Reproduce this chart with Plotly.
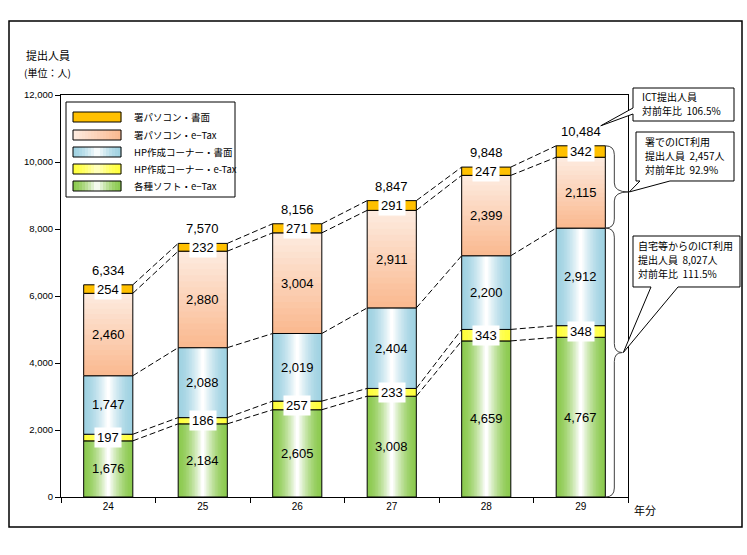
import plotly.graph_objects as go

# ---------------- data ----------------
years = ["24", "25", "26", "27", "28", "29"]
soft_etax = [1676, 2184, 2605, 3008, 4659, 4767]   # 各種ソフト・e-Tax
hp_etax = [197, 186, 257, 233, 343, 348]           # HP作成コーナー・e-Tax
hp_paper = [1747, 2088, 2019, 2404, 2200, 2912]    # HP作成コーナー・書面
pc_etax = [2460, 2880, 3004, 2911, 2399, 2115]     # 署パソコン・e-Tax
pc_paper = [254, 232, 271, 291, 247, 342]          # 署パソコン・書面
totals = [6334, 7570, 8156, 8847, 9848, 10484]
legend_names = ["署パソコン・書面", "署パソコン・e−Tax", "HP作成コーナー・書面",
                "HP作成コーナー・e-Tax", "各種ソフト・e−Tax"]
callout_ict = ["ICT提出人員", "対前年比  106.5%"]
callout_office = ["署でのICT利用", "提出人員  2,457人", "対前年比  92.9%"]
callout_home = ["自宅等からのICT利用", "提出人員  8,027人", "対前年比  111.5%"]

# ---------------- geometry (reference pixel coords) ----------------
FW, FH = 747, 555
PL, PR, PT, PB = 61, 628, 95, 497
YMAX = 12000
BW = 0.52
NCAT = len(years)


def px(x):
    return (x - PL) / (PR - PL)


def py(y):
    return (PB - y) / (PB - PT)


def xpix(v):
    return PL + (v + 0.5) * (PR - PL) / NCAT


def ypix(v):
    return PB - v * (PB - PT) / YMAX


def mix(c1, c2, t):
    return "rgb(%d,%d,%d)" % tuple(round(a * (1 - t) + b * t) for a, b in zip(c1, c2))


WHITE = (255, 255, 255)
GREEN = (140, 202, 80)
YELLOW = (255, 255, 60)
YELLOW_C = (255, 255, 200)
BLUE = (160, 210, 226)
PEACH_T = (253, 236, 225)
PEACH_B = (250, 184, 142)
ORANGE = "#FFC000"

xs = list(range(NCAT))
segments = [soft_etax, hp_etax, hp_paper, pc_etax, pc_paper]
bases = []
cum = [0] * NCAT
for s in segments:
    bases.append(cum[:])
    cum = [c + v for c, v in zip(cum, s)]

fig = go.Figure()


def nested(vals, base, edge, center, n, power=1.6):
    for k in range(n):
        t = (k / (n - 1)) ** power
        fig.add_trace(go.Bar(x=xs, y=vals, base=base, width=BW * (1 - k / n),
                             marker=dict(color=mix(edge, center, t), line=dict(width=0)),
                             showlegend=False, hoverinfo="skip"))


def outline(vals, base, fill="rgba(0,0,0,0)"):
    fig.add_trace(go.Bar(x=xs, y=vals, base=base, width=BW,
                         marker=dict(color=fill, line=dict(color="black", width=1)),
                         showlegend=False, hoverinfo="skip"))


nested(soft_etax, bases[0], GREEN, WHITE, 16)
outline(soft_etax, bases[0])
nested(hp_etax, bases[1], YELLOW, YELLOW_C, 8)
outline(hp_etax, bases[1])
nested(hp_paper, bases[2], BLUE, WHITE, 16)
outline(hp_paper, bases[2])
NP = 16
for k in range(NP):
    frac = (NP - k) / NP
    t = (k + 0.5) / NP
    fig.add_trace(go.Bar(x=xs, y=[v * frac for v in pc_etax], base=bases[3], width=BW,
                         marker=dict(color=mix(PEACH_T, PEACH_B, t), line=dict(width=0)),
                         showlegend=False, hoverinfo="skip"))
outline(pc_etax, bases[3])
outline(pc_paper, bases[4], ORANGE)

# dashed connectors between bars
tops = [[b + v for b, v in zip(bases[i], segments[i])] for i in range(len(segments))]
lx, ly = [], []
for level in tops:
    for i in range(NCAT - 1):
        lx += [i + BW / 2, i + 1 - BW / 2, None]
        ly += [level[i], level[i + 1], None]
fig.add_trace(go.Scatter(x=lx, y=ly, mode="lines", line=dict(color="black", width=1, dash="6px,3px"),
                         showlegend=False, hoverinfo="skip"))

annotations = []
NUMFONT = dict(family="Arial, Liberation Sans", size=13, color="black")
JP = "Noto Sans CJK JP"

for si, s in enumerate(segments):
    boxed = si in (1, 4)
    for i in range(NCAT):
        a = dict(x=i, y=bases[si][i] + s[i] / 2, xref="x", yref="y", text=f"{s[i]:,}",
                 showarrow=False, font=NUMFONT, yanchor="middle")
        if boxed:
            a.update(bgcolor="white", borderpad=2)
        annotations.append(a)
for i in range(NCAT):
    annotations.append(dict(x=i, y=totals[i], xref="x", yref="y", text=f"{totals[i]:,}",
                            showarrow=False, yanchor="bottom", yshift=5, font=NUMFONT))


def ptext(x, y, text, size, family=JP):
    annotations.append(dict(x=px(x), y=py(y), xref="paper", yref="paper", text=text,
                            showarrow=False, xanchor="left", yanchor="middle",
                            font=dict(family=family, size=size, color="black")))


ptext(24, 55, "提出人員", 11)
ptext(22, 73, "(単位：人)", 10)
ptext(632, 510, "年分", 11)

shapes = []
shapes.append(dict(type="rect", xref="paper", yref="paper", x0=px(9), y0=py(527), x1=px(742), y1=py(21),
                   line=dict(color="black", width=1.5), layer="below"))

# legend
shapes.append(dict(type="rect", xref="paper", yref="paper", x0=px(66), y0=py(197), x1=px(235), y1=py(102),
                   line=dict(color="black", width=1), fillcolor="white", layer="above"))
rows = [117, 135, 152, 169, 186]
SX0, SX1, SH = 73, 121, 10
NS = 16
for r, name in enumerate(legend_names):
    yc = rows[r]
    for k in range(NS):
        t = (k + 0.5) / NS
        sym = (1 - abs(2 * t - 1)) ** 1.6
        if r == 0:
            col = ORANGE
        elif r == 1:
            col = mix(PEACH_T, PEACH_B, t)
        elif r == 2:
            col = mix(BLUE, WHITE, sym)
        elif r == 3:
            col = mix(YELLOW, YELLOW_C, sym)
        else:
            col = mix(GREEN, WHITE, sym)
        xa = SX0 + (SX1 - SX0) * k / NS
        xb = SX0 + (SX1 - SX0) * (k + 1) / NS + 0.3
        shapes.append(dict(type="rect", xref="paper", yref="paper", x0=px(xa), x1=px(xb),
                           y0=py(yc + SH / 2), y1=py(yc - SH / 2), line=dict(width=0),
                           fillcolor=col, layer="above"))
    shapes.append(dict(type="rect", xref="paper", yref="paper", x0=px(SX0), x1=px(SX1),
                       y0=py(yc + SH / 2), y1=py(yc - SH / 2), line=dict(color="black", width=1),
                       layer="above"))
    ptext(132, yc, name, 9.5)


def path(points):
    return "M " + " L ".join(f"{px(a):.5f},{py(b):.5f}" for a, b in points) + " Z"


tip1 = (xpix(5) + 20, ypix(totals[5]) - 20)
shapes.append(dict(type="path", xref="paper", yref="paper",
                   path=path([(633, 88), (734, 88), (734, 121), (633, 121), (633, 114), tip1, (633, 108)]),
                   line=dict(color="black", width=1), fillcolor="white", layer="above"))
bx = xpix(5) + BW / 2 * (PR - PL) / NCAT
top2, bot2 = ypix(totals[5]), ypix(tops[2][5])
tip2 = (bx + 24, (top2 + bot2) / 2 + 5)
shapes.append(dict(type="path", xref="paper", yref="paper",
                   path=path([(636, 132), (734, 132), (734, 181), (670, 181), tip2, (640, 181), (636, 181)]),
                   line=dict(color="black", width=1), fillcolor="white", layer="above"))
top3, bot3 = ypix(tops[2][5]), ypix(0)
tip3 = (bx + 18, (top3 + bot3) / 2 - 10)
shapes.append(dict(type="path", xref="paper", yref="paper",
                   path=path([(633, 236), (740, 236), (740, 287), (678, 287), tip3, (651, 287), (633, 287)]),
                   line=dict(color="black", width=1), fillcolor="white", layer="above"))


def brace(x0, y0, y1, ym, xt, d=9):
    pts = [(x0, y0), (x0 + d, y0), (x0 + d, y0 + d), (x0 + d, ym - d), (x0 + d, ym), (xt, ym),
           (x0 + d, ym), (x0 + d, ym + d), (x0 + d, y1 - d), (x0 + d, y1), (x0, y1)]
    f = lambda p: f"{px(p[0]):.5f},{py(p[1]):.5f}"
    return (f"M {f(pts[0])} Q {f(pts[1])} {f(pts[2])} L {f(pts[3])} Q {f(pts[4])} {f(pts[5])} "
            f"Q {f(pts[6])} {f(pts[7])} L {f(pts[8])} Q {f(pts[9])} {f(pts[10])}")


shapes.append(dict(type="path", xref="paper", yref="paper", path=brace(bx, top2, bot2, tip2[1], tip2[0] - 1),
                   line=dict(color="#404040", width=1), layer="above"))
shapes.append(dict(type="path", xref="paper", yref="paper", path=brace(bx, top3, bot3, tip3[1], tip3[0] - 1),
                   line=dict(color="#404040", width=1), layer="above"))

for j, t in enumerate(callout_ict):
    ptext(640, 96 + 14 * j, t, 10)
for j, t in enumerate(callout_office):
    ptext(643, 141 + 14 * j, t, 10)
for j, t in enumerate(callout_home):
    ptext(636, 245 + 14 * j, t, 10)

fig.update_layout(
    width=FW, height=FH,
    margin=dict(l=PL, r=FW - PR, t=PT, b=FH - PB, pad=0),
    paper_bgcolor="white", plot_bgcolor="white",
    barmode="overlay", hovermode=False, showlegend=False,
    shapes=shapes, annotations=annotations,
    xaxis=dict(range=[-0.5, NCAT - 0.5], tickmode="array", tickvals=xs, ticktext=years,
               ticks="", showgrid=False, zeroline=False, showline=True, linecolor="black",
               linewidth=1, mirror=True, tickfont=dict(family="Arial, Liberation Sans", size=10, color="black"),
               minor=dict(tickmode="array", tickvals=[i + 0.5 for i in range(-1, NCAT)],
                          ticks="outside", ticklen=5, tickcolor="black", showgrid=False)),
    yaxis=dict(range=[0, YMAX], tickmode="linear", tick0=0, dtick=2000, tickformat=",",
               ticks="outside", ticklen=5, tickcolor="black", showgrid=False, zeroline=False,
               showline=True, linecolor="black", linewidth=1, mirror=True,
               tickfont=dict(family="Arial, Liberation Sans", size=9.5, color="black")),
)

fig.write_html("out.html", config={"displayModeBar": False, "staticPlot": True},
               post_script="document.body.style.margin='0';document.body.style.overflow='hidden';")
